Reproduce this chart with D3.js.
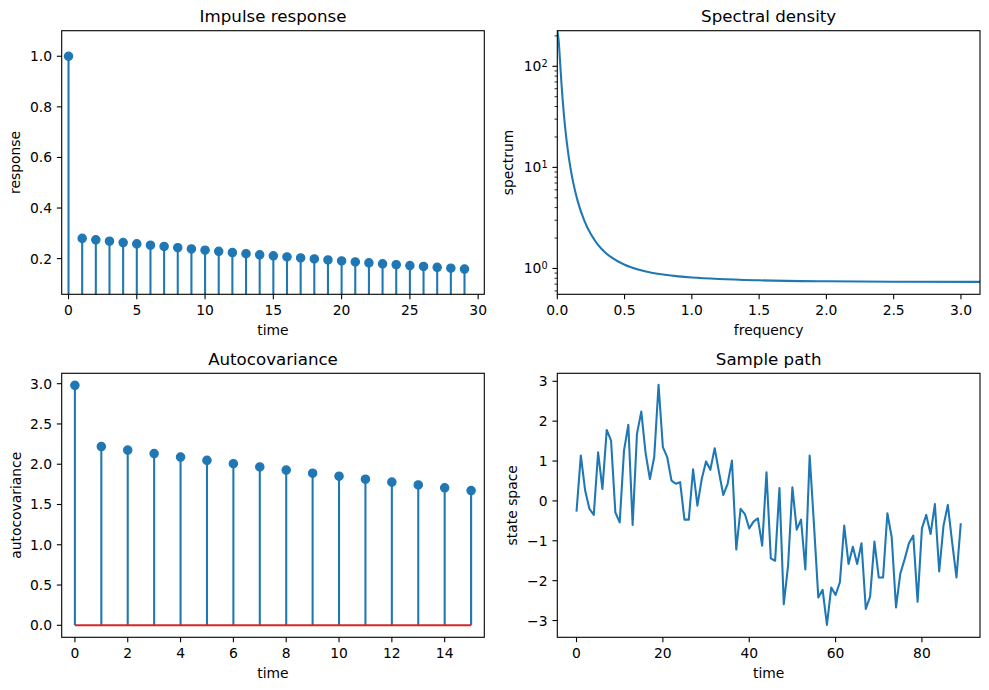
<!DOCTYPE html>
<html>
<head>
<meta charset="utf-8">
<script src="https://cdn.jsdelivr.net/npm/d3@7"></script>
<style>
  html, body { margin: 0; padding: 0; background: #fff; }
  svg { display: block; font-family: "DejaVu Sans", sans-serif; }
</style>
</head>
<body>
<svg id="fig" width="989" height="690"></svg>
<script>
// ---------------- data ----------------
const impulseTime = d3.range(30);
const impulseValues = [1.0, 0.280, 0.2744, 0.2689, 0.2635, 0.2583, 0.2531, 0.2480, 0.2431, 0.2382,
  0.2335, 0.2288, 0.2242, 0.2197, 0.2153, 0.2110, 0.2068, 0.2027, 0.1986, 0.1947,
  0.1908, 0.1869, 0.1832, 0.1795, 0.1759, 0.1724, 0.1690, 0.1656, 0.1623, 0.1590];

const spectralFreq = [0, 0.01, 0.02, 0.03, 0.04, 0.05, 0.06, 0.07, 0.085, 0.1, 0.12, 0.15, 0.2, 0.25,
  0.3, 0.35, 0.4, 0.5, 0.6, 0.7, 0.8, 0.9, 1.0, 1.2, 1.5, 2.0, 2.5, 3.14159];
const spectralValues = [225, 180.9, 114.0, 70.7, 46.3, 32.2, 23.56, 17.97, 12.71, 9.517, 6.904, 4.718,
  2.987, 2.177, 1.7345, 1.4667, 1.2926, 1.0876, 0.9760, 0.9088, 0.8651, 0.8352, 0.8138, 0.7861,
  0.7635, 0.7466, 0.7397, 0.7372];

const autocovLags = d3.range(16);
const autocovValues = [2.980, 2.220, 2.1757, 2.1322, 2.0895, 2.0477, 2.0068, 1.9666, 1.9273,
  1.8888, 1.8510, 1.8140, 1.7777, 1.7421, 1.7073, 1.6731];

const pathTime = d3.range(90);
const pathValues = [-0.27, 1.14, 0.26, -0.20, -0.35, 1.22, 0.30, 1.78, 1.51, -0.29,
  -0.54, 1.26, 1.91, -0.60, 1.68, 2.24, 1.20, 0.55, 1.10, 2.91,
  1.35, 1.10, 0.51, 0.43, 0.47, -0.47, -0.47, 0.79, -0.12, 0.55,
  0.99, 0.78, 1.32, 0.72, 0.15, 0.43, 1.01, -1.22, -0.20, -0.33,
  -0.69, -0.52, -0.44, -1.12, 0.72, -1.44, -1.50, 0.32, -2.59, -1.62,
  0.34, -0.72, -0.47, -1.72, 1.14, -0.60, -2.42, -2.23, -3.11, -2.17,
  -2.36, -2.04, -0.62, -1.58, -1.15, -1.58, -1.06, -2.71, -2.40, -1.02,
  -1.92, -1.92, -0.31, -0.91, -2.67, -1.82, -1.46, -1.06, -0.87, -2.53,
  -0.69, -0.35, -0.83, -0.08, -1.77, -0.62, -0.10, -1.04, -1.92, -0.56];

const impulseXTicks = [0, 5, 10, 15, 20, 25, 30];
const impulseYTicks = [0.2, 0.4, 0.6, 0.8, 1.0];
const spectralXTicks = [0, 0.5, 1.0, 1.5, 2.0, 2.5, 3.0];
const spectralYTicks = [1, 10, 100];
const autocovXTicks = [0, 2, 4, 6, 8, 10, 12, 14];
const autocovYTicks = [0, 0.5, 1.0, 1.5, 2.0, 2.5, 3.0];
const pathXTicks = [0, 20, 40, 60, 80];
const pathYTicks = [-3, -2, -1, 0, 1, 2, 3];

// ---------------- style ----------------
const BLUE = "#1f77b4", RED = "#d62728";
const FS = 13.89, TFS = 16.67;
const TICK = 4.86, PAD = 4.86;
const svg = d3.select("#fig");
const minus = s => s.replace("-", "\u2212");

function panel(id, box, xs, ys, o) {
  const g = svg.append("g");
  const cp = "clip-" + id;
  svg.append("defs").append("clipPath").attr("id", cp)
    .append("rect").attr("x", box.l).attr("y", box.t)
    .attr("width", box.r - box.l).attr("height", box.b - box.t);
  const plot = g.append("g").attr("clip-path", `url(#${cp})`);

  const xa = g.append("g");
  o.xTicks.forEach(v => {
    const x = xs(v);
    xa.append("line").attr("x1", x).attr("x2", x).attr("y1", box.b).attr("y2", box.b + TICK)
      .attr("stroke", "#000").attr("stroke-width", 1.1);
    xa.append("text").attr("x", x).attr("y", box.b + TICK + PAD).attr("dy", "0.78em")
      .attr("text-anchor", "middle").attr("font-size", FS).attr("fill", "#000")
      .text(o.xFmt(v));
  });
  const ya = g.append("g");
  o.yTicks.forEach(v => {
    const y = ys(v);
    ya.append("line").attr("x1", box.l - TICK).attr("x2", box.l).attr("y1", y).attr("y2", y)
      .attr("stroke", "#000").attr("stroke-width", 1.1);
    const t = ya.append("text").attr("x", box.l - TICK - PAD).attr("y", y).attr("dy", "0.36em")
      .attr("text-anchor", "end").attr("font-size", FS).attr("fill", "#000");
    if (o.logY) {
      t.append("tspan").text("10");
      t.append("tspan").attr("dy", "-0.45em").attr("font-size", FS * 0.7)
        .text(String(Math.round(Math.log10(v))));
    } else {
      t.text(o.yFmt(v));
    }
  });
  if (o.minorY) {
    o.minorY.forEach(v => {
      const y = ys(v);
      ya.append("line").attr("x1", box.l - 2.78).attr("x2", box.l).attr("y1", y).attr("y2", y)
        .attr("stroke", "#000").attr("stroke-width", 0.83);
    });
  }
  g.append("text").attr("x", (box.l + box.r) / 2).attr("y", box.b + 40.5)
    .attr("text-anchor", "middle").attr("font-size", FS).text(o.xLabel);
  g.append("text").attr("transform", `translate(${box.l - o.yLabelOff},${(box.t + box.b) / 2}) rotate(-90)`)
    .attr("text-anchor", "middle").attr("font-size", FS).text(o.yLabel);
  g.append("text").attr("x", (box.l + box.r) / 2).attr("y", box.t - 8.33)
    .attr("text-anchor", "middle").attr("font-size", TFS).text(o.title);
  return { g, plot, frame: () => g.append("rect").attr("x", box.l).attr("y", box.t)
      .attr("width", box.r - box.l).attr("height", box.b - box.t)
      .attr("fill", "none").attr("stroke", "#000").attr("stroke-width", 1.1) };
}

function stems(plot, xs, ys, xsData, vals, baseline) {
  plot.selectAll(null).data(vals).enter().append("line")
    .attr("x1", (d, i) => xs(xsData[i])).attr("x2", (d, i) => xs(xsData[i]))
    .attr("y1", ys(0)).attr("y2", d => ys(d))
    .attr("stroke", BLUE).attr("stroke-width", 2.08);
  if (baseline) {
    plot.append("line").attr("x1", xs(xsData[0])).attr("x2", xs(xsData[xsData.length - 1]))
      .attr("y1", ys(0)).attr("y2", ys(0)).attr("stroke", RED).attr("stroke-width", 2.08);
  }
  plot.selectAll(null).data(vals).enter().append("circle")
    .attr("cx", (d, i) => xs(xsData[i])).attr("cy", d => ys(d)).attr("r", 4.17)
    .attr("fill", BLUE).attr("stroke", BLUE).attr("stroke-width", 1.2);
}

const f1 = d3.format(".1f");

// ---- Panel 1: Impulse response
{
  const box = { l: 61.7, r: 484.3, t: 30.7, b: 294.3 };
  const xs = d3.scaleLinear().domain([-0.5, 30.45]).range([box.l, box.r]);
  const ys = d3.scaleLinear().domain([0.059, 1.101]).range([box.b, box.t]);
  const p = panel("a", box, xs, ys, { xTicks: impulseXTicks, yTicks: impulseYTicks,
    xFmt: d => String(d), yFmt: f1, xLabel: "time", yLabel: "response", title: "Impulse response",
    yLabelOff: 41.5 });
  stems(p.plot, xs, ys, impulseTime, impulseValues, false);
  p.frame();
}

// ---- Panel 2: Spectral density
{
  const box = { l: 557.3, r: 980, t: 30.7, b: 294.3 };
  const xs = d3.scaleLinear().domain([0, Math.PI]).range([box.l, box.r]);
  const ys = d3.scaleLog().domain([Math.pow(10, -0.2555), 225]).range([box.b, box.t]);
  const minor = [];
  [0.1, 1, 10, 100].forEach(b => { for (let k = 2; k <= 9; k++) {
    const v = b * k; if (v >= ys.domain()[0] && v <= 225) minor.push(v); } });
  const p = panel("b", box, xs, ys, { xTicks: spectralXTicks, yTicks: spectralYTicks, logY: true,
    minorY: minor, xFmt: f1, xLabel: "frequency", yLabel: "spectrum", title: "Spectral density",
    yLabelOff: 44 });
  const line = d3.line().x((d, i) => xs(spectralFreq[i])).y(d => ys(d)).curve(d3.curveMonotoneX);
  p.plot.append("path").attr("d", line(spectralValues)).attr("fill", "none")
    .attr("stroke", BLUE).attr("stroke-width", 2.08);
  p.frame();
}

// ---- Panel 3: Autocovariance
{
  const box = { l: 61.7, r: 484.3, t: 373.3, b: 637.3 };
  const xs = d3.scaleLinear().domain([-0.5, 15.5]).range([box.l, box.r]);
  const ys = d3.scaleLinear().domain([-0.149, 3.129]).range([box.b, box.t]);
  const p = panel("c", box, xs, ys, { xTicks: autocovXTicks, yTicks: autocovYTicks,
    xFmt: d => String(d), yFmt: f1, xLabel: "time", yLabel: "autocovariance", title: "Autocovariance",
    yLabelOff: 40.5 });
  stems(p.plot, xs, ys, autocovLags, autocovValues, true);
  p.frame();
}

// ---- Panel 4: Sample path
{
  const box = { l: 557.3, r: 980, t: 373.3, b: 637.3 };
  const xs = d3.scaleLinear().domain([-4.45, 93.45]).range([box.l, box.r]);
  const ys = d3.scaleLinear().domain([-3.42, 3.2]).range([box.b, box.t]);
  const p = panel("d", box, xs, ys, { xTicks: pathXTicks, yTicks: pathYTicks,
    xFmt: d => String(d), yFmt: d => minus(String(d)), xLabel: "time", yLabel: "state space",
    title: "Sample path", yLabelOff: 40.5 });
  const line = d3.line().x((d, i) => xs(pathTime[i])).y(d => ys(d));
  p.plot.append("path").attr("d", line(pathValues)).attr("fill", "none")
    .attr("stroke", BLUE).attr("stroke-width", 2.08).attr("stroke-linejoin", "round");
  p.frame();
}
</script>
</body>
</html>
